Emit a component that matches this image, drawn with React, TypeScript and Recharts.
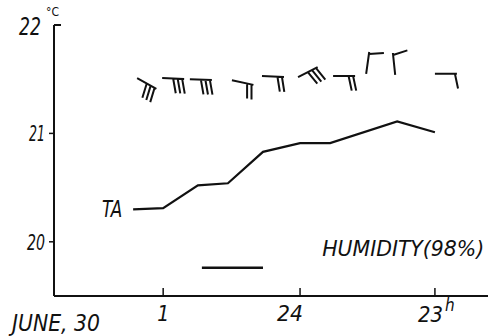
import {
  ComposedChart,
  Line,
  Scatter,
  XAxis,
  YAxis,
  ReferenceLine,
  ReferenceDot,
} from 'recharts';

// air temperature trace (TA), x in plot units along the time axis
const hourPos = [2.37, 3.27, 4.31, 5.21, 6.26, 7.37, 8.27, 10.28, 11.41];
const airTemp = [20.3, 20.31, 20.52, 20.54, 20.83, 20.91, 20.91, 21.11, 21.01];

// wind barbs: station position, staff direction (deg, screen), number of feathers
const barbPos = [2.49, 3.24, 4.07, 5.33, 6.23, 7.31, 8.36, 9.35, 10.22, 11.41];
const barbLevel = [21.51, 21.51, 21.5, 21.49, 21.53, 21.52, 21.53, 21.55, 21.54, 21.55];
const barbDir = [29, 2, 2, 12, 3, -27, 0, -82, -96, 0];
const barbFeathers = [3, 3, 3, 2, 2, 3, 2, 1, 1, 1];

// humidity period
const humidityFrom = 4.43;
const humidityTo = 6.26;
const humidityLevel = 19.76;
const humidityText = 'HUMIDITY(98%)';
const humidityLabelPos = { x: 10.46, y: 19.94 };

const xTicks = [0, 3.27, 7.37, 11.41];
const xTickLabels = ['JUNE, 30', '1', '24', '23'];
const yTicks = [20, 21, 22];

const tempData = hourPos.map((x, i) => ({ x, t: airTemp[i] }));
const barbData = barbPos.map((x, i) => ({
  x,
  t: barbLevel[i],
  dir: barbDir[i],
  n: barbFeathers[i],
}));

const FONT = "'DejaVu Sans Condensed', 'DejaVu Sans', sans-serif";
const INK = '#111';

function XTick(props: any) {
  const { x, y, index } = props;
  const label = xTickLabels[index];
  if (index === 0) {
    return (
      <text x={x - 42} y={y + 35} textLength={88} lengthAdjust="spacingAndGlyphs" fontFamily={FONT} fontStyle="italic" fontSize={23} fill={INK}>
        {label}
      </text>
    );
  }
  return (
    <g>
      <line x1={x} y1={y - 8} x2={x} y2={y} stroke={INK} strokeWidth={1.5} />
      {index === 3 ? (
        <g>
          <text x={x - 17} y={y + 26} textLength={25} lengthAdjust="spacingAndGlyphs" fontFamily={FONT} fontStyle="italic" fontSize={21} fill={INK}>
            {label}
          </text>
          <text x={x + 10} y={y + 15} fontFamily={FONT} fontStyle="italic" fontSize={17} fill={INK}>
            h
          </text>
        </g>
      ) : index === 2 ? (
        <text x={x - 23} y={y + 25} textLength={26} lengthAdjust="spacingAndGlyphs" fontFamily={FONT} fontStyle="italic" fontSize={21} fill={INK}>
          {label}
        </text>
      ) : (
        <text x={x} y={y + 25} textAnchor="middle" fontFamily={FONT} fontStyle="italic" fontSize={21} fill={INK}>
          {label}
        </text>
      )}
    </g>
  );
}

function YTick(props: any) {
  const { x, y, payload } = props;
  const v = payload.value;
  const top = v === 22;
  const w = top ? 22 : v === 21 ? 16 : 18;
  return (
    <g>
      {top ? (
        <line x1={x} y1={y} x2={x + 7} y2={y} stroke={INK} strokeWidth={2} />
      ) : (
        <line x1={x - 5} y1={y} x2={x} y2={y} stroke={INK} strokeWidth={1.5} />
      )}
      <text x={top ? x - 35 : x - 9 - w} y={y + (top ? 10 : 8)} textLength={w} lengthAdjust="spacingAndGlyphs" fontFamily={FONT} fontStyle="italic" fontSize={top ? 24 : 22} fill={INK}>
        {v}
      </text>
      {top && (
        <text x={x - 8} y={y - 9} fontFamily={FONT} fontSize={12} fill={INK}>
          °C
        </text>
      )}
    </g>
  );
}

function Barb(props: any) {
  const { cx, cy, payload } = props;
  if (cx == null || cy == null) return null;
  const len = 22;
  const fl = 15;
  const a = (payload.dir * Math.PI) / 180;
  const fa = ((payload.dir + 78) * Math.PI) / 180;
  const tx = cx + len * Math.cos(a);
  const ty = cy + len * Math.sin(a);
  let d = `M${cx},${cy}L${tx},${ty}`;
  for (let i = 0; i < payload.n; i++) {
    const off = 2 + i * 4.5;
    const sx = tx - off * Math.cos(a);
    const sy = ty - off * Math.sin(a);
    d += `M${sx},${sy}L${sx + fl * Math.cos(fa)},${sy + fl * Math.sin(fa)}`;
  }
  return <path d={d} stroke={INK} strokeWidth={2} fill="none" />;
}

export default function App() {
  return (
    <div style={{ position: 'absolute', left: 0, top: 0, width: 493, height: 336, background: '#fff' }}>
      <ComposedChart width={493} height={336} margin={{ top: 25, right: 5, bottom: 0, left: 0 }}>
        <XAxis
          type="number"
          dataKey="x"
          domain={[0, 13]}
          ticks={xTicks}
          tick={<XTick />}
          tickLine={false}
          tickSize={0}
          tickMargin={0}
          axisLine={{ stroke: INK, strokeWidth: 2 }}
          height={40}
          allowDataOverflow
        />
        <YAxis
          type="number"
          dataKey="t"
          domain={[19.5, 22]}
          ticks={yTicks}
          tick={<YTick />}
          tickLine={false}
          tickSize={0}
          tickMargin={0}
          axisLine={{ stroke: INK, strokeWidth: 2 }}
          width={54}
          allowDataOverflow
        />
        <ReferenceLine
          segment={[
            { x: humidityFrom, y: humidityLevel },
            { x: humidityTo, y: humidityLevel },
          ]}
          stroke={INK}
          strokeWidth={2.5}
        />
        <ReferenceDot
          x={humidityLabelPos.x}
          y={humidityLabelPos.y}
          r={0.1}
          fill="none"
          stroke="none"
          label={{
            content: (p: any) => {
              const vb = p.viewBox;
              const cx = vb.x + vb.width / 2;
              const cy = vb.y + vb.height / 2;
              return (
                <text x={cx - 81} y={cy + 8} textLength={162} lengthAdjust="spacingAndGlyphs" fontFamily={FONT} fontStyle="italic" fontSize={22} fill={INK}>
                  {humidityText}
                </text>
              );
            },
          }}
        />
        <Line
          data={tempData}
          dataKey="t"
          stroke={INK}
          strokeWidth={2.2}
          dot={false}
          isAnimationActive={false}
          label={(p: any) =>
            p.index === 0 ? (
              <text key="ta" x={p.x - 31} y={p.y + 8} textLength={20} lengthAdjust="spacingAndGlyphs" fontFamily={FONT} fontStyle="italic" fontSize={23} fill={INK}>
                TA
              </text>
            ) : (
              <g key={`l${p.index}`} />
            )
          }
        />
        <Scatter data={barbData} dataKey="t" shape={<Barb />} isAnimationActive={false} />
      </ComposedChart>
    </div>
  );
}
